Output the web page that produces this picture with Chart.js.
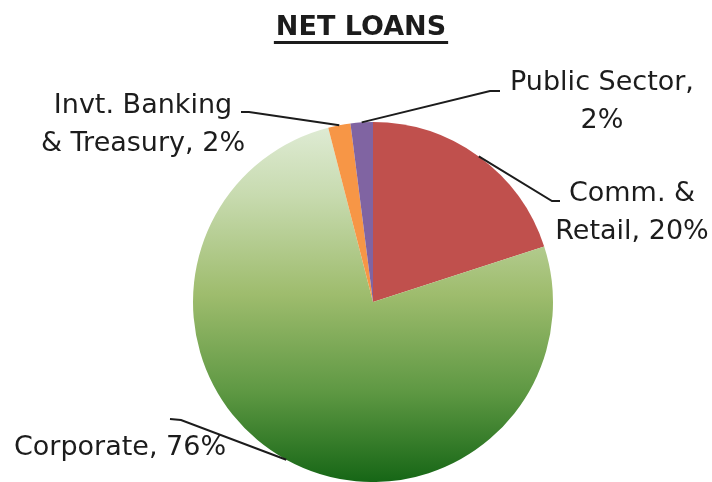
<!DOCTYPE html>
<html>
<head>
<meta charset="utf-8">
<script src="https://cdn.jsdelivr.net/npm/chart.js@4/dist/chart.umd.min.js"></script>
<style>
    html, body { margin: 0; padding: 0; background: #fff; }
    #wrap { width: 712px; height: 482px; }
</style>
</head>
<body>
<div id="wrap"><canvas id="loans" width="712" height="482"></canvas></div>
<script>
const categories = ['Comm. & Retail', 'Corporate', 'Invt. Banking & Treasury', 'Public Sector'];
const shares = [20, 76, 2, 2];
const sliceColors = ['#c0504d', '#9bbb59', '#f79646', '#8064a2'];

const FONT = '"DejaVu Sans", Verdana, sans-serif';
const INK = '#1c1c1c';

// where each slice label sits: centre x, first baseline, words on line one,
// and the two bend points of its leader line
const labelLayout = [
    {x: 632, y: 201, wrap: 2, elbow: [552, 201], tail: [560, 201]},
    {x: 120, y: 455, wrap: 99, elbow: [181, 420], tail: [170, 419]},
    {x: 143, y: 113, wrap: 2, elbow: [249, 112], tail: [241, 112]},
    {x: 602, y: 90, wrap: 2, elbow: [490, 91], tail: [500, 91]}
];

function greenFill(chart) {
    const area = chart.chartArea;
    if (!area) {
        return sliceColors[1];
    }
    const g = chart.ctx.createLinearGradient(0, area.top, 0, area.bottom);
    g.addColorStop(0, '#e0ecd6');
    g.addColorStop(0.2, '#c8dbb0');
    g.addColorStop(0.48, '#9ebc6d');
    g.addColorStop(0.75, '#5e9843');
    g.addColorStop(1, '#166616');
    return g;
}

const annotate = {
    id: 'annotate',
    afterDatasetsDraw(chart) {
        const ctx = chart.ctx;
        const arcs = chart.getDatasetMeta(0).data;
        ctx.save();

        // title, underlined
        ctx.font = 'bold 27px ' + FONT;
        ctx.fillStyle = INK;
        ctx.textAlign = 'center';
        ctx.textBaseline = 'alphabetic';
        ctx.fillText('NET LOANS', 361, 35);
        const tw = ctx.measureText('NET LOANS').width;
        ctx.fillRect(361 - tw / 2 - 2, 41, tw + 4, 3);

        arcs.forEach((arc, i) => {
            const lay = labelLayout[i];
            const mid = (arc.startAngle + arc.endAngle) / 2;
            const sx = arc.x + Math.cos(mid) * arc.outerRadius;
            const sy = arc.y + Math.sin(mid) * arc.outerRadius;

            ctx.strokeStyle = INK;
            ctx.lineWidth = 2;
            ctx.beginPath();
            ctx.moveTo(sx, sy);
            ctx.lineTo(lay.elbow[0], lay.elbow[1]);
            ctx.lineTo(lay.tail[0], lay.tail[1]);
            ctx.stroke();

            const words = (categories[i] + ', ' + shares[i] + '%').split(' ');
            const lines = [words.slice(0, lay.wrap).join(' ')];
            if (words.length > lay.wrap) {
                lines.push(words.slice(lay.wrap).join(' '));
            }
            ctx.font = '27px ' + FONT;
            ctx.fillStyle = INK;
            ctx.textAlign = 'center';
            lines.forEach((t, k) => ctx.fillText(t, lay.x, lay.y + k * 38));
        });
        ctx.restore();
    }
};

new Chart(document.getElementById('loans'), {
    type: 'pie',
    data: {
        labels: categories,
        datasets: [{
            data: shares,
            backgroundColor: c => c.dataIndex === 1 ? greenFill(c.chart) : sliceColors[c.dataIndex],
            borderWidth: 0
        }]
    },
    options: {
        responsive: false,
        animation: false,
        layout: {padding: {top: 122, left: 193, right: 159, bottom: 0}},
        plugins: {
            legend: {display: false},
            tooltip: {enabled: false}
        }
    },
    plugins: [annotate]
});
</script>
</body>
</html>
